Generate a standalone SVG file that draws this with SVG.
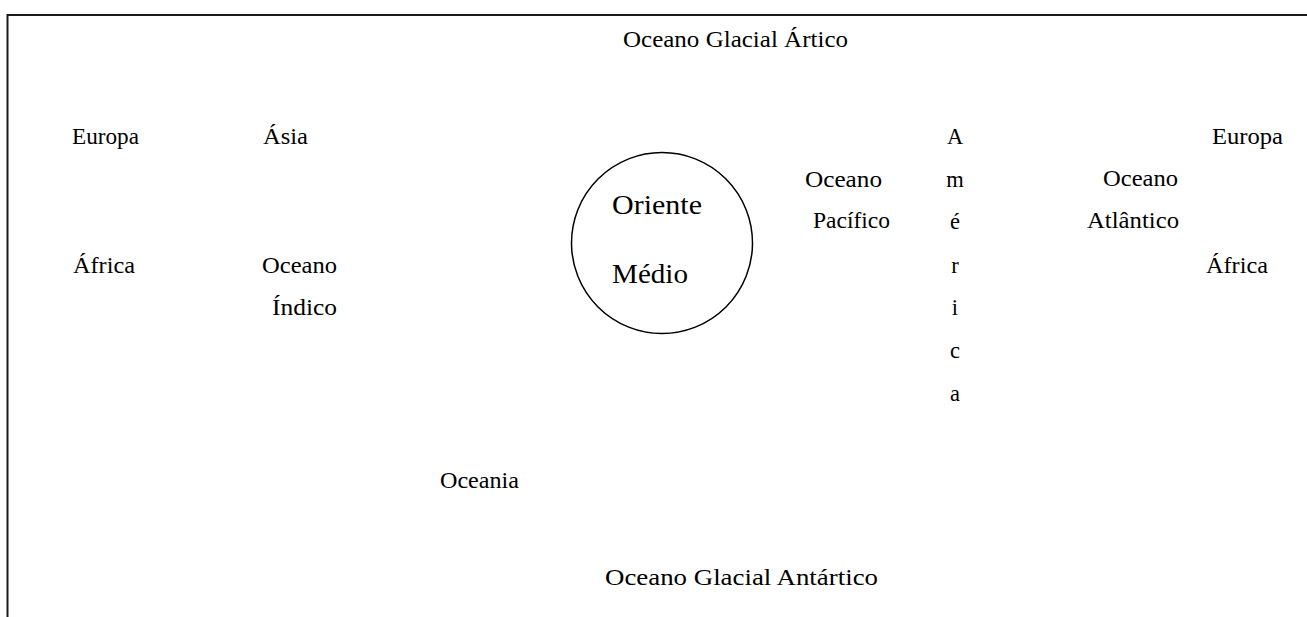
<svg xmlns="http://www.w3.org/2000/svg" width="1307" height="617" viewBox="0 0 1307 617">
<style>
text{font-size:22.5px;fill:#000}
.big{font-size:27px}
.col{text-anchor:middle}
</style>
<rect width="1307" height="617" fill="#fff"/>
<g id="frame" fill="none" stroke="#1a1a1a" stroke-width="2">
<path d="M7.5 617V15H1307"/>
</g>
<g id="connectors"></g>
<g font-family="'Liberation Serif', 'Times New Roman', serif">
<g id="arctic"><text x="623" y="47" textLength="225" lengthAdjust="spacingAndGlyphs">Oceano Glacial Ártico</text></g>
<g id="europa-left"><text x="72" y="144" textLength="67" lengthAdjust="spacingAndGlyphs">Europa</text></g>
<g id="asia"><text x="263" y="144" textLength="45" lengthAdjust="spacingAndGlyphs">Ásia</text></g>
<g id="africa-left"><text x="73" y="273" textLength="62" lengthAdjust="spacingAndGlyphs">África</text></g>
<g id="indico">
<text x="262" y="273" textLength="75" lengthAdjust="spacingAndGlyphs">Oceano</text>
<text x="272" y="315" textLength="65" lengthAdjust="spacingAndGlyphs">Índico</text>
</g>
<g id="oriente-medio">
<circle cx="662" cy="243" r="90.5" fill="none" stroke="#000" stroke-width="1.5"/>
<text class="big" x="612" y="214" textLength="90" lengthAdjust="spacingAndGlyphs">Oriente</text>
<text class="big" x="612" y="283" textLength="76" lengthAdjust="spacingAndGlyphs">Médio</text>
</g>
<g id="pacifico">
<text x="805" y="187" textLength="77" lengthAdjust="spacingAndGlyphs">Oceano</text>
<text x="813" y="228" textLength="77" lengthAdjust="spacingAndGlyphs">Pacífico</text>
</g>
<g id="america">
<text class="col" x="955" y="144">A</text>
<text class="col" x="955" y="187">m</text>
<text class="col" x="955" y="229">é</text>
<text class="col" x="955" y="273">r</text>
<text class="col" x="955" y="315">i</text>
<text class="col" x="955" y="358">c</text>
<text class="col" x="955" y="401">a</text>
</g>
<g id="atlantico">
<text x="1103" y="186" textLength="75" lengthAdjust="spacingAndGlyphs">Oceano</text>
<text x="1087" y="228" textLength="92" lengthAdjust="spacingAndGlyphs">Atlântico</text>
</g>
<g id="europa-right"><text x="1212" y="144" textLength="71" lengthAdjust="spacingAndGlyphs">Europa</text></g>
<g id="africa-right"><text x="1206" y="273" textLength="62" lengthAdjust="spacingAndGlyphs">África</text></g>
<g id="oceania"><text x="440" y="488" textLength="79" lengthAdjust="spacingAndGlyphs">Oceania</text></g>
<g id="antartico"><text x="605" y="585" textLength="273" lengthAdjust="spacingAndGlyphs">Oceano Glacial Antártico</text></g>
</g>
</svg>
